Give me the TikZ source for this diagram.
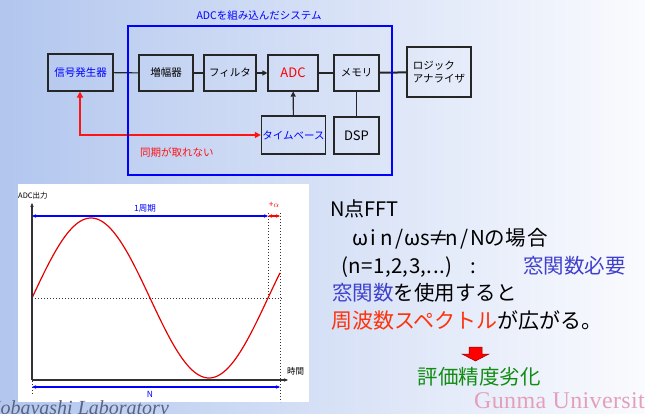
\documentclass[tikz,border=0pt]{standalone}
\usepackage{fontspec}
\setmainfont{Noto Sans CJK JP}
\newfontfamily\serifrm{Liberation Serif}
\usetikzlibrary{arrows.meta}
\definecolor{bgL}{RGB}{178,198,238}
\definecolor{bgM}{RGB}{226,233,248}
\definecolor{bgR}{RGB}{250,251,254}
\definecolor{frameblue}{RGB}{0,0,255}
\definecolor{linered}{RGB}{255,20,20}
\definecolor{winblue}{RGB}{64,64,205}
\definecolor{specred}{RGB}{255,50,10}
\definecolor{evalgreen}{RGB}{16,140,16}
\definecolor{gunma}{RGB}{228,160,186}
\definecolor{koba}{RGB}{90,100,130}
\definecolor{axisgray}{RGB}{50,50,50}
\newcommand{\cc}[1]{\makebox[13pt]{#1}}
\newcommand{\jc}[1]{\makebox[21.5pt][l]{#1}}
\tikzset{
  blk/.style={draw=black!85, line width=1.1pt, inner sep=1pt, align=center,
    minimum height=36pt, font=\fontsize{10.5}{13}\selectfont},
  conn/.style={draw=black!85, line width=1.1pt},
  tip/.style={-{Triangle[length=5pt,width=5pt]}},
  bigtxt/.style={anchor=base west, inner sep=0pt, font=\fontsize{20.5}{24}\selectfont},
  smalltxt/.style={inner sep=0pt, font=\fontsize{8.5}{10}\selectfont},
  dotline/.style={draw=black!80, line width=0.8pt, dash pattern=on 1pt off 2pt},
  charrow/.style={line width=1.1pt, {Stealth[length=4pt,width=3.5pt]}-{Stealth[length=4pt,width=3.5pt]}}
}
\begin{document}
\begin{tikzpicture}[x=1pt,y=-1pt]
\useasboundingbox (0,0) rectangle (645,414);
\clip (0,0) rectangle (645,414);
% background
\shade[left color=bgL, middle color=bgM, right color=bgR] (0,0) rectangle (645,414);

% ---------------- block diagram ----------------
\node[blk, minimum width=65pt, minimum height=37pt, text=frameblue] (sig) at (80.5,72.5) {信号発生器};
\node[blk, minimum width=54pt] (amp) at (166,73) {増幅器};
\node[blk, minimum width=52pt] (filt) at (230,73) {フィルタ};
\node[blk, minimum width=50pt, text=red, font=\fontsize{13}{15}\selectfont] (adc) at (293,73) {ADC};
\node[blk, minimum width=45pt] (mem) at (356.5,73) {メモリ};
\node[blk, minimum width=64pt, minimum height=50pt, align=left] (logic) at (439,72) {ロジック\\アナライザ};
\node[blk, minimum width=63pt, minimum height=38pt, text=frameblue] (tb) at (293.5,135) {タイムベース};
\node[blk, minimum width=45pt, minimum height=37pt, font=\fontsize{13}{15}\selectfont] (dsp) at (356.5,135.5) {DSP};

\draw[conn] (sig) -- (amp);
\draw[conn] (amp) -- (filt);
\draw[conn, tip] (filt) -- (adc);
\draw[conn] (adc) -- (mem);
\draw[conn, line width=2pt] (mem) -- (logic);
\draw[conn] (mem) -- (dsp);
\draw[conn, tip] (tb) -- (adc);

\coordinate (corner) at (80,135);
\draw[draw=linered, line width=1.5pt, {Triangle[length=6pt,width=6pt]}-{Triangle[length=6pt,width=6pt]}]
  (sig.south -| corner) -- (corner) -- (tb.west);
\node[text=linered, anchor=base west, inner sep=0pt, font=\fontsize{10.5}{12}\selectfont] (sync) at (140,157) {同期が取れない};

\node[draw=frameblue, line width=1.3pt, minimum width=264pt, minimum height=149pt, inner sep=0pt] (sys) at (260,100.5) {};
\node[text=frameblue, inner sep=0pt, font=\fontsize{10.5}{12}\selectfont] (systitle) at (259,16) {ADCを組み込んだシステム};

% ---------------- waveform panel ----------------
\fill[white] (18,184) rectangle (309,402);
\coordinate (O) at (32,380);
\coordinate (ytop) at (32,203);
\coordinate (xend) at (288,380);
\draw[dotline] (32,298) -- (283,298);
\draw[dotline] (268,213) -- (268,298);
\draw[dotline] (280,213) -- (280,402);
\draw[dotline] (32,381) -- (32,394);
\draw[red!90!black, line width=1.2pt] plot[domain=0:248, samples=120, smooth] ({\x+32}, {298-80*sin(1.52542*\x)});
\draw[axisgray, line width=1.2pt, -{Stealth[length=4pt,width=3.5pt]}] (O) -- (ytop);
\draw[axisgray, line width=1.2pt, -{Stealth[length=4pt,width=3.5pt]}] (O) -- (xend);
\node[smalltxt, font=\fontsize{7.5}{9}\selectfont, anchor=west] (ylab) at (18,196) {ADC出力};
\node[smalltxt, anchor=west] (xlab) at (287,371) {時間};
\coordinate (p0) at (32,216);
\coordinate (p1) at (268,216);
\coordinate (p2) at (280,216);
\draw[charrow, frameblue] (p0) -- (p1);
\draw[charrow, red] (p1) -- (p2);
\node[smalltxt, text=frameblue] (lab1) at (145,208) {1周期};
\node[smalltxt, text=red] (laba) at (274,205) {+$\alpha$};
\coordinate (n0) at (32,387);
\coordinate (n1) at (280,387);
\draw[charrow, frameblue] (n0) -- (n1);
\node[smalltxt, text=frameblue] (labn) at (150,394) {N};

% ---------------- right text ----------------
\node[bigtxt, font=\fontsize{20}{24}\selectfont] (t1) at (330,217) {N点FFT};
\node[bigtxt] (t2) at (354,245) {\cc{ω}\cc{i}\cc{n}\cc{/}\cc{ω}\cc{s}\cc{≠}\cc{n}\cc{/}\cc{N}\jc{の}\jc{場}合};
\node[bigtxt] (t3) at (341,273) {\makebox[129pt][l]{\addfontfeature{LetterSpace=2}(n=1,2,3,...)}\makebox[53pt][l]{:}\textcolor{winblue}{窓関数必要}};
\node[bigtxt] (t4) at (332,300) {\textcolor{winblue}{窓関数}を使用すると};
\node[bigtxt, font=\fontsize{21}{24}\selectfont] (t5) at (331,328) {\textcolor{specred}{周波数スペクトル}が広がる。};
\fill[red, draw=red!60!black, line width=0.5pt] (469,347) -- (482,347) -- (482,354) -- (489,354) -- (475.5,361) -- (462,354) -- (469,354) -- cycle;
\node[inner sep=0pt, text=evalgreen, font=\fontsize{20.5}{24}\selectfont] (t6) at (479,377) {評価精度劣化};

% ---------------- footers ----------------
\node[anchor=base west, inner sep=0pt, text=koba, font=\serifrm\itshape\fontsize{20}{24}\selectfont] (kob) at (-13,414) {Kobayashi Laboratory};
\node[anchor=base west, inner sep=0pt, text=gunma, font=\serifrm\fontsize{24}{28}\selectfont\addfontfeature{LetterSpace=1.5}] (gun) at (474,408) {Gunma University};
\end{tikzpicture}
\end{document}
